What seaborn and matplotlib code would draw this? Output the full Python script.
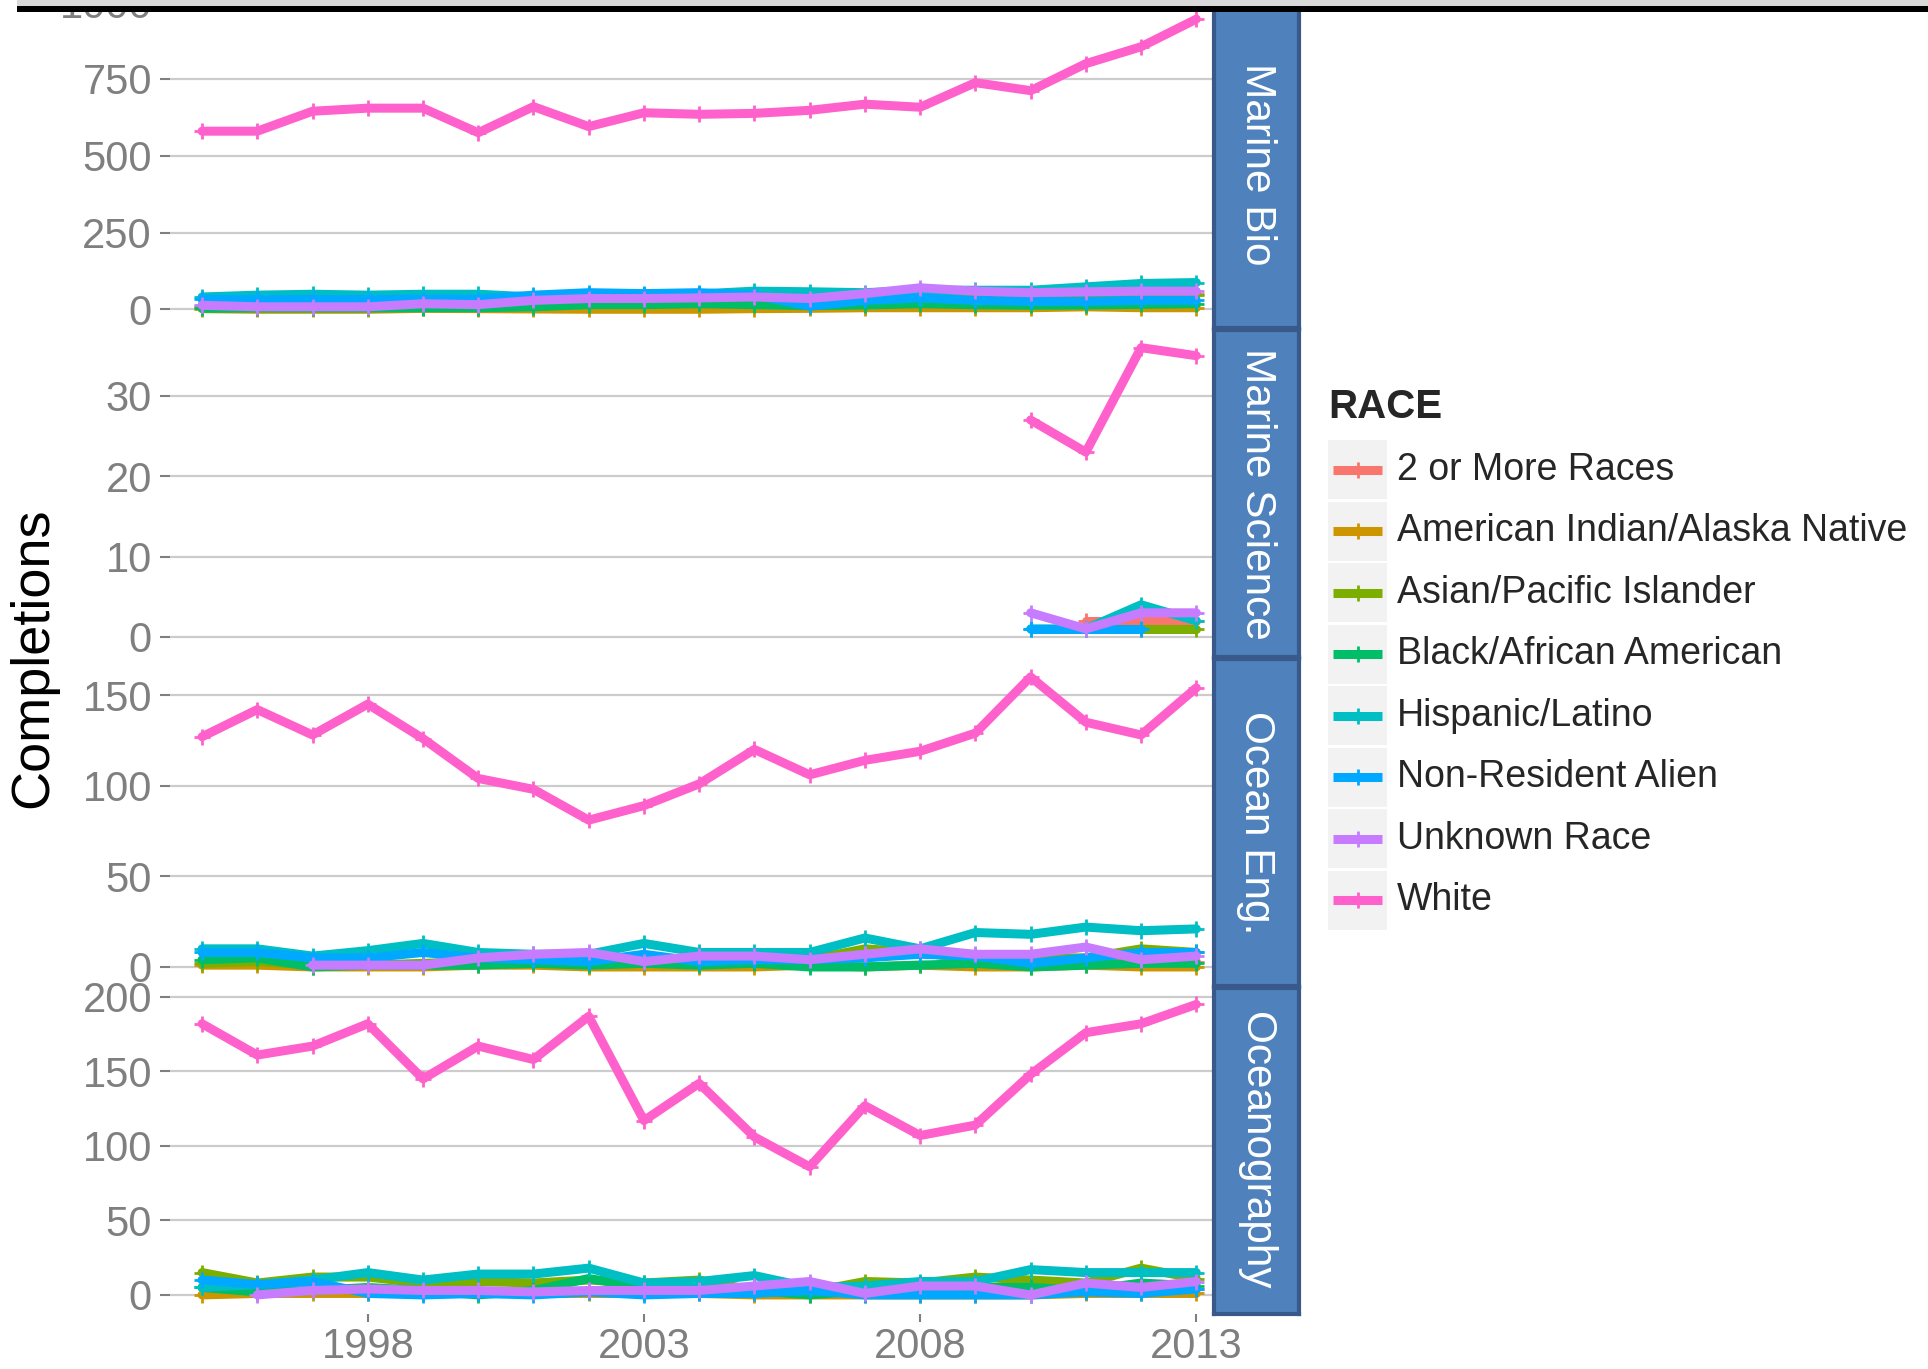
import numpy as np
import pandas as pd
import matplotlib
matplotlib.use("Agg")
import matplotlib.pyplot as plt
import seaborn as sns
from matplotlib.patches import Rectangle
from matplotlib.lines import Line2D

sns.set_style("white")
plt.rcParams["font.family"] = ["Liberation Sans", "DejaVu Sans"]

nan = np.nan
years = list(range(1995, 2014))
races = ["2 or More Races", "American Indian/Alaska Native", "Asian/Pacific Islander",
         "Black/African American", "Hispanic/Latino", "Non-Resident Alien",
         "Unknown Race", "White"]
colors = ["#F8766D", "#CD9600", "#7CAE00", "#00BE67", "#00BFC4", "#00A9FF", "#C77CFF", "#FF61CC"]
majors = ["Marine Bio", "Marine Science", "Ocean Eng.", "Oceanography"]

# Marine Bio
mb_two = [nan] * 15 + [40, 45, 48, 50]
mb_amind = [2, 0, 0, 0, 3, 2, 1, 0, 0, 0, 2, 3, 5, 5, 5, 5, 8, 5, 5]
mb_asian = [10, 6, 6, 12, 18, 14, 22, 28, 28, 30, 32, 28, 40, 45, 40, 42, 45, 45, 48]
mb_black = [3, 4, 4, 4, 5, 5, 8, 15, 15, 18, 15, 12, 14, 18, 15, 13, 14, 16, 18]
mb_hisp = [40, 46, 49, 46, 49, 49, 40, 48, 48, 50, 59, 57, 54, 62, 62, 62, 73, 84, 87]
mb_nra = [32, 32, 32, 32, 33, 33, 46, 54, 51, 54, 46, 10, 29, 37, 29, 26, 26, 29, 29]
mb_unknown = [13, 8, 8, 8, 18, 15, 29, 35, 35, 37, 40, 35, 51, 70, 59, 54, 57, 59, 59]
mb_white = [580, 580, 645, 655, 655, 575, 660, 595, 640, 635, 638, 648, 668, 658, 738, 712, 800, 855, 945]

# Marine Science (only 2010-2013)
ms_two = [nan] * 16 + [2, 2, 2]
ms_amind = [nan] * 19
ms_asian = [nan] * 17 + [1, 1]
ms_black = [nan] * 19
ms_hisp = [nan] * 15 + [1, 1, 4, 2]
ms_nra = [nan] * 15 + [1, 1, 1, nan]
ms_unknown = [nan] * 15 + [3, 1, 3, 3]
ms_white = [nan] * 15 + [27, 23, 36, 35]

# Ocean Eng.
oe_two = [nan] * 15 + [1, 2, 2, 3]
oe_amind = [1, 1, 0, 0, 0, 1, 1, 0, 0, 0, 0, 1, 0, 1, 0, 0, 1, 0, 0]
oe_asian = [2, 3, 1, 1, 2, 3, 3, 3, 2, 3, 3, 4, 10, 8, 4, 5, 5, 10, 8]
oe_black = [4, 5, 0, 1, 1, 1, 2, 1, 2, 1, 2, 0, 0, 1, 2, 0, 1, 2, 2]
oe_hisp = [10, 10, 6, 9, 13, 8, 7, 7, 13, 8, 8, 8, 16, 10, 19, 18, 22, 20, 21]
oe_nra = [8, 8, 5, 5, 8, 5, 4, 3, 7, 3, 4, 4, 5, 7, 6, 2, 5, 8, 8]
oe_unknown = [nan, nan, 1, 1, 1, 5, 7, 8, 3, 6, 6, 4, 7, 10, 7, 7, 11, 4, 6]
oe_white = [127, 142, 128, 145, 126, 104, 98, 81, 89, 101, 120, 106, 114, 119, 129, 160, 135, 128, 154]

# Oceanography
oc_two = [nan] * 15 + [1, 5, 3, 4]
oc_amind = [0, 1, 1, 1, 1, 1, 1, 1, 1, 1, 0, 0, 0, 0, 0, 0, 1, 1, 1]
oc_asian = [15, 8, 12, 12, 8, 9, 8, 10, 8, 10, 3, 2, 9, 8, 12, 10, 8, 18, 11]
oc_black = [5, 2, 3, 5, 3, 0, 3, 11, 5, 5, 3, 0, 3, 4, 5, 5, 3, 8, 6]
oc_hisp = [5, 7, 10, 15, 10, 14, 14, 18, 8, 9, 13, 5, 6, 9, 9, 17, 15, 15, 15]
oc_nra = [10, 7, 9, 1, 0, 1, 0, 2, 0, 1, 1, 3, 0, 0, 0, 0, 2, 1, 4]
oc_unknown = [nan, 0, 3, 4, 3, 3, 2, 3, 3, 3, 6, 9, 1, 6, 6, 0, 8, 5, 9]
oc_white = [182, 161, 167, 182, 145, 167, 158, 187, 117, 142, 106, 86, 127, 107, 114, 148, 176, 182, 195]

series = {
    "Marine Bio": [mb_two, mb_amind, mb_asian, mb_black, mb_hisp, mb_nra, mb_unknown, mb_white],
    "Marine Science": [ms_two, ms_amind, ms_asian, ms_black, ms_hisp, ms_nra, ms_unknown, ms_white],
    "Ocean Eng.": [oe_two, oe_amind, oe_asian, oe_black, oe_hisp, oe_nra, oe_unknown, oe_white],
    "Oceanography": [oc_two, oc_amind, oc_asian, oc_black, oc_hisp, oc_nra, oc_unknown, oc_white],
}

rows = []
for m in majors:
    for race, vals in zip(races, series[m]):
        for y, v in zip(years, vals):
            rows.append((m, race, y, v))
df = pd.DataFrame(rows, columns=["major", "race", "year", "n"]).dropna()

yticks = {"Marine Bio": [0, 250, 500, 750, 1000], "Marine Science": [0, 10, 20, 30],
          "Ocean Eng.": [0, 50, 100, 150], "Oceanography": [0, 50, 100, 150, 200]}
ylims = {"Marine Bio": (-61, 1004), "Marine Science": (-2.5, 38.2),
         "Ocean Eng.": (-10.5, 169.9), "Oceanography": (-12.8, 206)}
xticks = [1998, 2003, 2008, 2013]

W, H = 1928, 1369
fig = plt.figure(figsize=(W / 100, H / 100), dpi=100)


def frac(x0, y0, x1, y1):
    return [x0 / W, 1 - y1 / H, (x1 - x0) / W, (y1 - y0) / H]


panels = [(1, 328), (330, 657), (659, 986), (988, 1314)]
grey = "#7F7F7F"
lw = 6.5
for i, (m, (t, b)) in enumerate(zip(majors, panels)):
    ax = fig.add_axes(frac(170, t, 1214, b))
    sub = df[df["major"] == m]
    sns.lineplot(data=sub, x="year", y="n", hue="race", hue_order=races, palette=colors,
                 ax=ax, legend=False, errorbar=None, lw=lw, marker="+", markersize=12,
                 markeredgewidth=2, markeredgecolor=None)
    ax.set_xlim(1994.42, 2013.32)
    ax.set_ylim(*ylims[m])
    ax.set_yticks(yticks[m])
    ax.set_axisbelow(True)
    ax.grid(axis="y", color="#CCCCCC", lw=1.6)
    ax.grid(axis="x", visible=False)
    for s in ax.spines.values():
        s.set_visible(False)
    ax.set_xlabel("")
    ax.set_ylabel("")
    ax.tick_params(axis="y", left=True, length=7, width=1.5, color=grey, labelcolor=grey,
                   labelsize=30, pad=6)
    ax.set_xticks(xticks)
    if i == 3:
        ax.tick_params(axis="x", bottom=True, length=6, width=1.5, color=grey, labelcolor=grey,
                       labelsize=30, pad=3)
    else:
        ax.tick_params(axis="x", bottom=False, labelbottom=False)

    # facet strip
    sax = fig.add_axes(frac(1214, t, 1299, b))
    sax.set_facecolor("#4F81BD")
    sax.set_xticks([])
    sax.set_yticks([])
    for s in sax.spines.values():
        s.set_color("#38598A")
        s.set_linewidth(3)
    sax.text(0.5, 0.5, m, rotation=270, color="white", fontsize=30.5,
             ha="center", va="center", transform=sax.transAxes)

# y label
fig.text(33 / W, 1 - 658 / H, "Completions", rotation=90, fontsize=39,
         ha="center", va="center", color="black")

# legend
fig.text(1328 / W, 1 - 407 / H, "RACE", fontsize=29, fontweight="bold", ha="left", va="center")
for i, (race, c) in enumerate(zip(races, colors)):
    yc = 469.7 + 61.5 * i
    fig.add_artist(Rectangle((1328 / W, 1 - (yc + 29.5) / H), 59 / W, 59 / H,
                             transform=fig.transFigure, facecolor="#F2F2F2", edgecolor="none"))
    fig.add_artist(Line2D([1333 / W, 1382 / W], [1 - yc / H, 1 - yc / H], color=c, lw=lw,
                          transform=fig.transFigure, solid_capstyle="butt"))
    fig.add_artist(Line2D([1357.5 / W], [1 - yc / H], color=c, marker="+", markersize=12,
                          markeredgewidth=2, transform=fig.transFigure))
    fig.text(1397 / W, 1 - yc / H, race, fontsize=27, ha="left", va="center")

# browser bar at the top
fig.add_artist(Rectangle((17 / W, 1 - 6 / H), 1, 6 / H, transform=fig.transFigure,
                         facecolor="#D9D9D9", edgecolor="none", zorder=20))
fig.add_artist(Rectangle((17 / W, 1 - 11.5 / H), 1, 5.5 / H, transform=fig.transFigure,
                         facecolor="black", edgecolor="none", zorder=20))

fig.savefig("out.png", dpi=100)
